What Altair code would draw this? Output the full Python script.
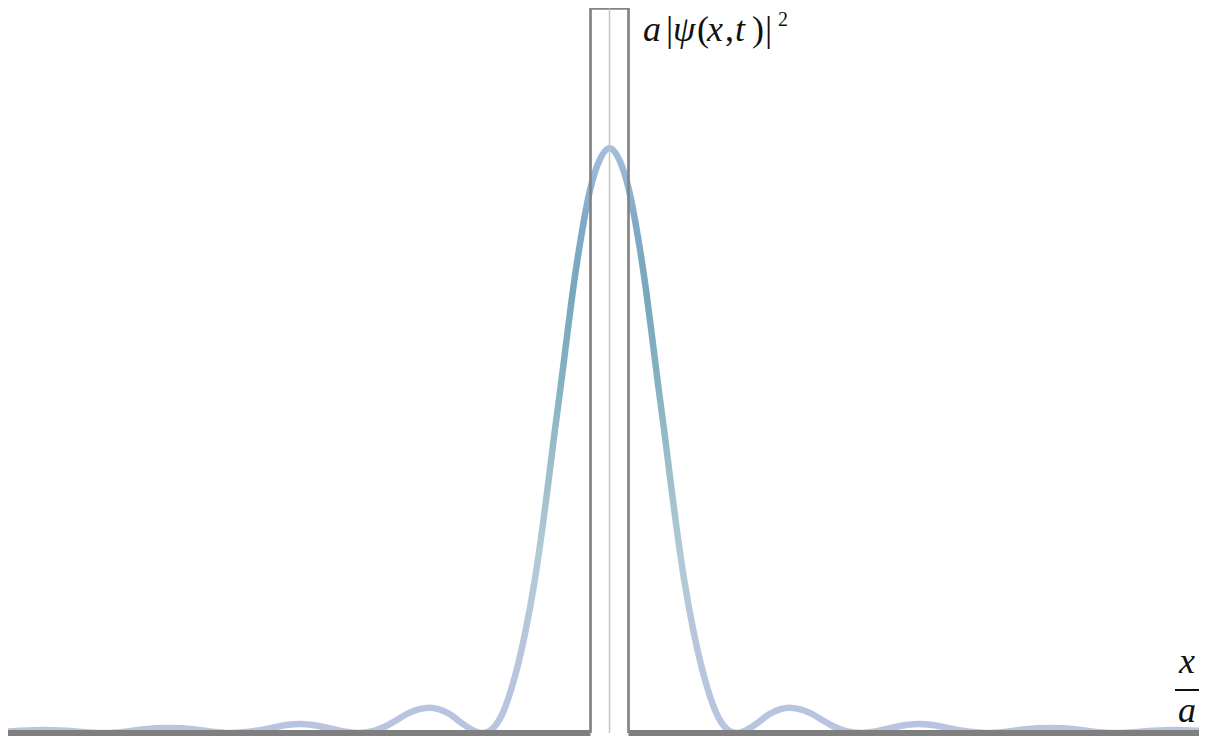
import altair as alt
import pandas as pd

# ---- data, x in units of a, y = a|psi(x,t)|^2 ----
curve_x_right = [0.00, 0.25, 0.51, 0.75, 0.96, 1.12, 1.28, 1.45, 1.59, 1.75, 1.96, 2.22, 2.57, 2.88, 3.10, 3.33,
                 3.60, 3.90, 4.20, 4.50, 4.72, 5.00, 5.30, 5.60, 5.90, 6.20, 6.64,
                 7.00, 7.40, 7.80, 8.14, 8.50, 8.90, 9.30, 9.97,
                 10.40, 10.90, 11.60, 12.30, 12.80, 13.30,
                 13.80, 14.30, 14.90, 15.50, 16.00, 16.60]
curve_y_right = [0.807, 0.792, 0.750, 0.684, 0.612, 0.547, 0.480, 0.413, 0.354, 0.289, 0.213, 0.138, 0.063, 0.020, 0.005, 0.0,
                 0.004, 0.014, 0.026, 0.033, 0.035, 0.033, 0.027, 0.018, 0.009, 0.003, 0.0,
                 0.002, 0.007, 0.011, 0.0125, 0.011, 0.007, 0.003, 0.0,
                 0.0015, 0.005, 0.0068, 0.005, 0.0015, 0.0,
                 0.0012, 0.003, 0.004, 0.003, 0.0015, 0.0]

box_x = [-0.5, -0.5, 0.5, 0.5]
box_y = [0.0, 1.0, 1.0, 0.0]

base_x1 = [-17.0, 0.5]
base_x2 = [-0.5, 17.0]

label_pieces = ["a", "|", "ψ", "(", "x", ",", "t", ")", "|"]
label_italic = [True, False, True, False, True, False, True, False, False]
label_sup = "2"
frac_top = "x"
frac_bottom = "a"

# ---- build tables ----
cx = [-v for v in reversed(curve_x_right[1:])] + curve_x_right
cy = list(reversed(curve_y_right[1:])) + curve_y_right
curve_df = pd.DataFrame({"x": cx, "y": cy})
box_df = pd.DataFrame({"x": box_x, "y": box_y, "i": list(range(len(box_x)))})
base_df = pd.DataFrame({"x1": base_x1, "x2": base_x2, "y": [0.0, 0.0]})
center_df = pd.DataFrame({"x": [0.0], "y1": [0.0], "y2": [1.0]})

W, H = 1191, 728
xs = alt.Scale(domain=[-15.829, 15.513], nice=False, zero=False)
ys = alt.Scale(domain=[-0.00414, 1.00069], nice=False, zero=False)

grad = alt.Gradient(
    gradient="linear",
    stops=[
        alt.GradientStop(offset=0.0, color="#b8c4e0"),
        alt.GradientStop(offset=0.15, color="#b7c6dc"),
        alt.GradientStop(offset=0.30, color="#b0cad6"),
        alt.GradientStop(offset=0.45, color="#9dbfca"),
        alt.GradientStop(offset=0.60, color="#85b1c2"),
        alt.GradientStop(offset=0.75, color="#78a7bc"),
        alt.GradientStop(offset=0.88, color="#80aac8"),
        alt.GradientStop(offset=1.0, color="#a4bedc"),
    ],
    x1=0, x2=0, y1=1, y2=0,
)

curve = alt.Chart(curve_df).mark_line(
    stroke=grad, strokeWidth=6.5, interpolate="monotone", clip=True, strokeCap="round"
).encode(
    x=alt.X("x:Q", scale=xs, axis=None),
    y=alt.Y("y:Q", scale=ys, axis=None),
)

base = alt.Chart(base_df).mark_rule(color="#7f7f7f", strokeWidth=6, clip=True, strokeCap="butt").encode(
    x=alt.X("x1:Q", scale=xs, axis=None),
    x2="x2:Q",
    y=alt.Y("y:Q", scale=ys, axis=None),
)

box = alt.Chart(box_df).mark_line(color="#848484", strokeWidth=2.7, strokeJoin="miter").encode(
    x=alt.X("x:Q", scale=xs, axis=None),
    y=alt.Y("y:Q", scale=ys, axis=None),
    order="i:Q",
)

center = alt.Chart(center_df).mark_rule(color="#c4c4c4", strokeWidth=1.5).encode(
    x=alt.X("x:Q", scale=xs, axis=None),
    y=alt.Y("y1:Q", scale=ys, axis=None),
    y2="y2:Q",
)

# label a|psi(x,t)|^2 built from pieces
piece_x = [635, 658, 665, 689, 699, 717, 727, 744, 757]
layers = [curve, base, box, center]
for txt, it, px in zip(label_pieces, label_italic, piece_x):
    layers.append(
        alt.Chart(pd.DataFrame({"t": [txt]})).mark_text(
            font="Liberation Serif", fontSize=36, fontStyle="italic" if it else "normal",
            align="left", baseline="alphabetic", color="#111111",
        ).encode(text="t:N", x=alt.value(px), y=alt.value(33))
    )
layers.append(
    alt.Chart(pd.DataFrame({"t": [label_sup]})).mark_text(
        font="Liberation Serif", fontSize=20, align="left", baseline="alphabetic", color="#111111",
    ).encode(text="t:N", x=alt.value(770), y=alt.value(18))
)
# x / a fraction
layers.append(
    alt.Chart(pd.DataFrame({"t": [frac_top]})).mark_text(
        font="Liberation Serif", fontSize=36, fontStyle="italic", align="center", baseline="alphabetic", color="#111111",
    ).encode(text="t:N", x=alt.value(1179), y=alt.value(665))
)
layers.append(
    alt.Chart(pd.DataFrame({"t": [frac_bottom]})).mark_text(
        font="Liberation Serif", fontSize=36, fontStyle="italic", align="center", baseline="alphabetic", color="#111111",
    ).encode(text="t:N", x=alt.value(1179), y=alt.value(714))
)
layers.append(
    alt.Chart(pd.DataFrame({"t": [0]})).mark_rule(color="#111111", strokeWidth=2).encode(
        x=alt.value(1167), x2=alt.value(1191), y=alt.value(682)
    )
)

chart = alt.layer(*layers).properties(
    width=W, height=H, autosize=alt.AutoSizeParams(type="none"), padding=0, background="white"
).configure_view(stroke=None)

chart.save("out.html", embed_options={"renderer": "svg", "actions": False})
